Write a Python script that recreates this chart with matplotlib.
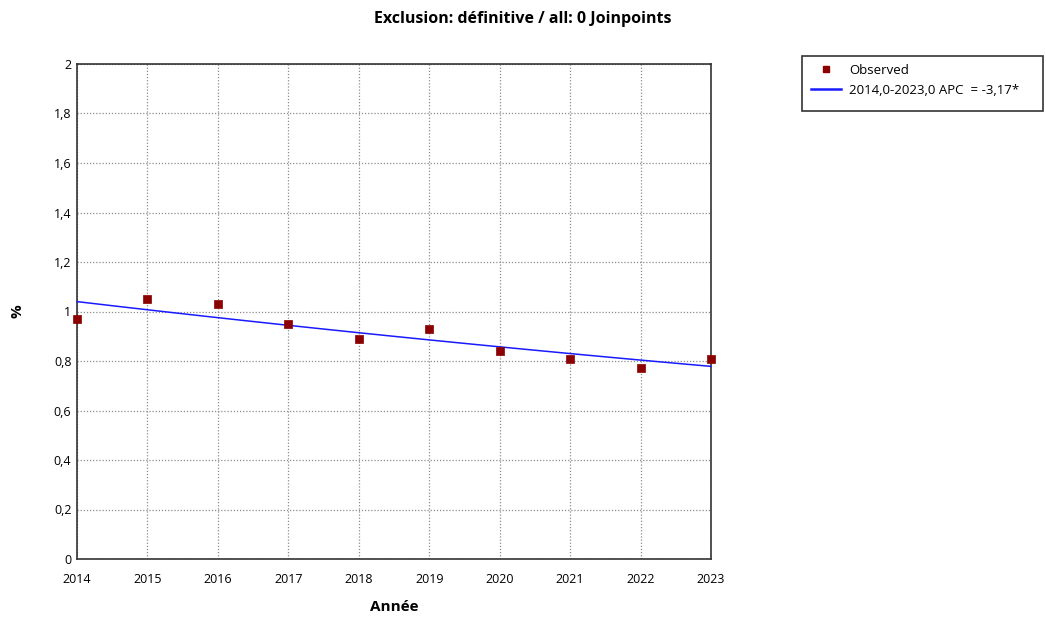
import numpy as np
import matplotlib
matplotlib.use("Agg")
import matplotlib.pyplot as plt
from matplotlib.lines import Line2D
from matplotlib.patches import Rectangle

plt.rcParams['font.family'] = ['Open Sans', 'DejaVu Sans']

years = [2014, 2015, 2016, 2017, 2018, 2019, 2020, 2021, 2022, 2023]
observed = [0.97, 1.05, 1.03, 0.95, 0.89, 0.93, 0.84, 0.81, 0.77, 0.81]
fit_start = 1.04          # modelled value at 2014
apc = -3.17               # annual percent change
y_ticks = [0, 0.2, 0.4, 0.6, 0.8, 1.0, 1.2, 1.4, 1.6, 1.8, 2.0]
y_tick_labels = ['0', '0,2', '0,4', '0,6', '0,8', '1', '1,2', '1,4', '1,6', '1,8', '2']

W, H = 1046, 619
fig = plt.figure(figsize=(W / 100, H / 100), dpi=100)
ax = fig.add_axes([77 / W, 1 - 559 / H, 634 / W, 495 / H])

# log-linear trend implied by the APC
xf = np.linspace(years[0], years[-1], 100)
yf = fit_start * (1 + apc / 100) ** (xf - years[0])
ax.plot(xf, yf, color='#1a1aff', lw=1.1, zorder=3, clip_on=False)
ax.scatter(years, observed, marker='s', s=36, color='#8b0000', zorder=4,
           edgecolors='#8b0000', linewidths=0.5, clip_on=False)

ax.set_xlim(years[0], years[-1])
ax.set_ylim(0, 2)
ax.set_xticks(years)
ax.set_xticklabels([str(y) for y in years], fontsize=9)
ax.set_yticks(y_ticks)
ax.set_yticklabels(y_tick_labels, fontsize=9)
ax.tick_params(axis='x', length=0, pad=10)
ax.tick_params(axis='y', length=0, pad=4)
ax.grid(True, color='#8c8c8c', linestyle=(0, (1, 1.5)), linewidth=0.9)
for s in ax.spines.values():
    s.set_color('#333333')
    s.set_linewidth(1.2)

ax.set_xlabel('Année', fontsize=11, fontweight='bold', labelpad=10)
ax.set_ylabel('%', fontsize=11, fontweight='bold')
ax.yaxis.set_label_coords(-(77 - 24) / 634, 0.5)
fig.text(0.5, 1 - 19 / H, 'Exclusion: définitive / all: 0 Joinpoints', ha='center',
         va='center', fontsize=11.5, fontweight='bold')

# legend box
fig.patches.append(Rectangle((802 / W, 1 - 111 / H), 241 / W, 55 / H,
                             transform=fig.transFigure, facecolor='white',
                             edgecolor='#333333', linewidth=1.2))
handles = [
    Line2D([], [], marker='s', color='#8b0000', linestyle='none', markersize=5),
    Line2D([], [], color='#1a1aff', lw=1.8),
]
labels = ['Observed', '2014,0-2023,0 APC  = -3,17*']
leg = fig.legend(handles, labels, loc='upper left', bbox_to_anchor=(808 / W, 1 - 61 / H),
                 frameon=False, fontsize=9.5, borderpad=0.2,
                 handlelength=2.3, handletextpad=0.6, labelspacing=0.55,
                 borderaxespad=0)

fig.savefig('out.png', dpi=100)
